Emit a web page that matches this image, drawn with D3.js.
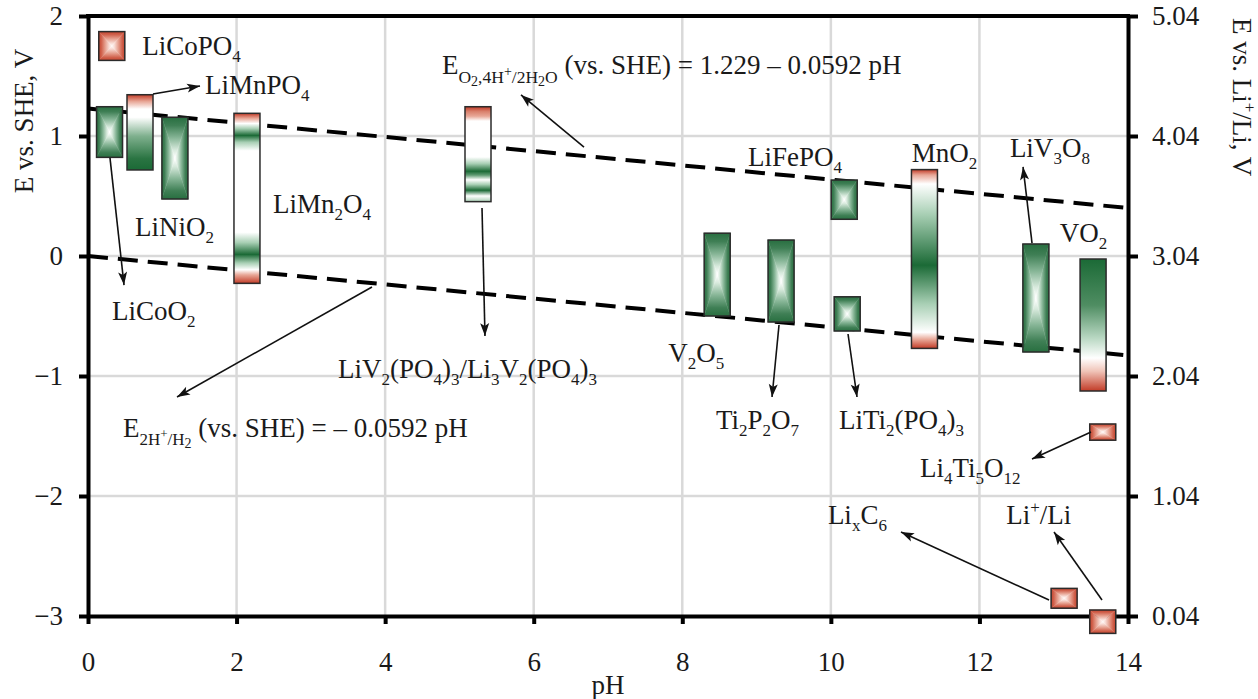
<!DOCTYPE html>
<html>
<head>
<meta charset="utf-8">
<script src="https://cdn.jsdelivr.net/npm/d3@7"></script>
<style>
  body { margin: 0; background: #fff; }
  svg text { font-family: "Liberation Serif", "Times New Roman", serif; fill: #1a1a1a; }
</style>
</head>
<body>
<div id="chart"></div>
<script>
// electrode materials: pH position and potential window (V vs. SHE)
var names    = ["LiCoPO4", "LiCoO2", "LiMnPO4", "LiNiO2", "LiMn2O4", "LiV2(PO4)3", "V2O5", "Ti2P2O7",
                "LiFePO4", "LiTi2(PO4)3", "MnO2", "LiV3O8", "VO2", "Li4Ti5O12", "LixC6", "Li+/Li"];
var phMid    = [0.32, 0.29, 0.70, 1.17, 2.14, 5.25, 8.47, 9.33, 10.18, 10.22, 11.26, 12.76, 13.53, 13.66, 13.14, 13.66];
var eHigh    = [1.87, 1.244, 1.344, 1.156, 1.189, 1.244, 0.19, 0.133, 0.633, -0.34, 0.72, 0.10, -0.025, -1.40, -2.77, -2.95];
var eLow     = [1.63, 0.822, 0.717, 0.475, -0.228, 0.453, -0.50, -0.55, 0.306, -0.625, -0.77, -0.80, -1.125, -1.535, -2.935, -3.145];
var fillKind = ["box-red", "box-green", "v-LiMnPO4", "box-green", "v-LiMn2O4", "v-LiV2", "box-green", "box-green",
                "box-green", "box-green", "v-MnO2", "box-green", "v-VO2", "box-red", "box-red", "box-red"];
var barWidthPH = 0.35;

// water stability lines E = a + b*pH
var lineIntercepts = [1.229, 0];
var lineSlope = -0.0592;
var linePH = [0, 14];

var liOffset = 3.04;
var xTicks = [0, 2, 4, 6, 8, 10, 12, 14];
var yTicks = [-3, -2, -1, 0, 1, 2];
var gridX = [2, 4, 6, 8, 10, 12];
var gridY = [-2, -1, 0, 1];

// annotation labels (text start pH, baseline E)
var labelText = ["LiCoPO_{4}", "LiMnPO_{4}", "LiNiO_{2}", "LiMn_{2}O_{4}", "LiCoO_{2}", "LiFePO_{4}", "MnO_{2}",
                 "LiV_{3}O_{8}", "VO_{2}", "V_{2}O_{5}", "LiV_{2}(PO_{4})_{3}/Li_{3}V_{2}(PO_{4})_{3}", "Ti_{2}P_{2}O_{7}",
                 "LiTi_{2}(PO_{4})_{3}", "Li_{4}Ti_{5}O_{12}", "Li_{x}C_{6}", "Li^{+}/Li"];
var labelPH = [0.73, 1.575, 0.633, 2.49, 0.323, 8.885, 11.09, 12.41, 13.08, 7.81, 3.365, 8.454, 10.11, 11.2, 9.96, 12.36];
var labelE  = [1.675, 1.35, 0.167, 0.358, -0.533, 0.75, 0.783, 0.825, 0.117, -0.883, -1.017, -1.442, -1.442, -1.842, -2.233, -2.233];

// arrows [pH, E] from -> to
var arrowFrom = [[0.875, 1.35], [0.296, 0.817], [6.677, 0.908], [5.304, 0.40], [3.823, -0.258], [9.302, -0.575],
                 [10.231, -0.65], [12.708, 0.108], [13.502, -1.467], [12.937, -2.867], [13.65, -2.867]];
var arrowTo   = [[1.508, 1.417], [0.485, -0.242], [5.829, 1.342], [5.344, -0.667], [1.198, -1.175], [9.208, -1.175],
                 [10.352, -1.175], [12.587, 0.742], [12.708, -1.692], [10.944, -2.30], [13.004, -2.30]];

var svgWidth = 1258, svgHeight = 699;
var plotLeft = 88, plotRight = 1128, plotTop = 16, plotBottom = 616;

var svg = d3.select("#chart").append("svg")
  .attr("width", svgWidth)
  .attr("height", svgHeight);

var x = d3.scaleLinear().domain([0, 14]).range([plotLeft, plotRight]);
var y = d3.scaleLinear().domain([-3, 2]).range([plotBottom, plotTop]);

var G = "#1b6a36", W = "#ffffff", R = "#c23b27", P = "#e8a797", LG = "#a8cfb4";
var defs = svg.append("defs");

// box (pyramid) gradients, built from four triangles
var boxStops = {
  green: [[0, "#286f40"], [0.2, "#3f7f55"], [0.5, "#86b596"], [0.8, "#d8eadd"], [1, "#ffffff"]],
  red: [[0, "#c4452f"], [0.2, "#d0604b"], [0.5, "#e6a08f"], [0.8, "#f8dcd5"], [1, "#fff8f6"]]
};
var dirs = {
  top: [0, 0, 0, 1], bottom: [0, 1, 0, 0], left: [0, 0, 1, 0], right: [1, 0, 0, 0]
};
Object.keys(boxStops).forEach(function(c) {
  Object.keys(dirs).forEach(function(d) {
    var g = defs.append("linearGradient").attr("id", c + "-" + d)
      .attr("x1", dirs[d][0]).attr("y1", dirs[d][1]).attr("x2", dirs[d][2]).attr("y2", dirs[d][3]);
    boxStops[c].forEach(function(s) {
      g.append("stop").attr("offset", s[0]).attr("stop-color", s[1]);
    });
  });
});

var vStops = {
  "v-LiMnPO4": [[0, R], [0.09, P], [0.19, W], [0.3, W], [0.55, "#7fb08e"], [0.85, "#2a7442"], [1, G]],
  "v-LiMn2O4": [[0, R], [0.03, P], [0.06, W], [0.09, LG], [0.13, G], [0.17, LG], [0.22, W], [0.70, W],
                [0.76, LG], [0.83, G], [0.88, LG], [0.92, W], [0.95, P], [1, R]],
  "v-LiV2": [[0, R], [0.05, "#d9806c"], [0.1, P], [0.15, W], [0.53, W], [0.6, LG], [0.68, G], [0.72, "#5e9a71"],
             [0.77, W], [0.82, LG], [0.88, G], [0.94, W], [1, LG]],
  "v-MnO2": [[0, R], [0.03, P], [0.08, W], [0.25, LG], [0.535, G], [0.75, LG], [0.91, W], [0.95, P], [1, R]],
  "v-VO2": [[0, G], [0.35, "#4f8d62"], [0.6, "#b9d8c3"], [0.75, W], [0.85, "#f0c4b8"], [1, R]]
};
Object.keys(vStops).forEach(function(k) {
  var g = defs.append("linearGradient").attr("id", k)
    .attr("x1", 0).attr("y1", 0).attr("x2", 0).attr("y2", 1);
  vStops[k].forEach(function(s) {
    g.append("stop").attr("offset", s[0]).attr("stop-color", s[1]);
  });
});

defs.append("marker")
  .attr("id", "arrow")
  .attr("viewBox", "-14 -6 16 12")
  .attr("markerUnits", "userSpaceOnUse")
  .attr("markerWidth", 16)
  .attr("markerHeight", 12)
  .attr("refX", 0).attr("refY", 0)
  .attr("orient", "auto")
  .append("path")
  .attr("d", "M0,0L-13,-4.5L-10,0L-13,4.5Z")
  .attr("fill", "#111");

// grid
svg.append("g").selectAll("line.gx").data(gridX).enter().append("line")
  .attr("x1", d => x(d)).attr("x2", d => x(d))
  .attr("y1", plotTop).attr("y2", plotBottom)
  .attr("stroke", "#d9d9d9").attr("stroke-width", 2.5);
svg.append("g").selectAll("line.gy").data(gridY).enter().append("line")
  .attr("x1", plotLeft).attr("x2", plotRight)
  .attr("y1", d => y(d)).attr("y2", d => y(d))
  .attr("stroke", "#d9d9d9").attr("stroke-width", 2.5);

// water lines
svg.append("g").selectAll("line.water").data(lineIntercepts).enter().append("line")
  .attr("x1", x(linePH[0])).attr("x2", x(linePH[1]))
  .attr("y1", d => y(d + lineSlope * linePH[0]))
  .attr("y2", d => y(d + lineSlope * linePH[1]))
  .attr("stroke", "#000").attr("stroke-width", 4)
  .attr("stroke-dasharray", "20,10");

// axes
var fontSize = 27;
function styleAxis(g) {
  g.select(".domain").attr("stroke", "#000").attr("stroke-width", 4);
  g.selectAll(".tick line").attr("stroke", "#000").attr("stroke-width", 4);
  g.selectAll(".tick text")
    .style("font-family", '"Liberation Serif", "Times New Roman", serif')
    .style("font-size", fontSize + "px").attr("fill", "#1a1a1a");
}

svg.append("g")
  .attr("transform", `translate(${plotLeft},0)`)
  .call(d3.axisLeft(y).tickValues(yTicks).tickSize(9).tickSizeOuter(0).tickPadding(16).tickFormat(d3.format("d")))
  .call(styleAxis);

svg.append("g")
  .attr("transform", `translate(${plotRight},0)`)
  .call(d3.axisRight(y).tickValues(yTicks).tickSize(10).tickSizeOuter(0).tickPadding(14)
    .tickFormat(d => (d + liOffset).toFixed(2)))
  .call(styleAxis);

svg.append("g")
  .attr("transform", `translate(0,${plotBottom})`)
  .call(d3.axisBottom(x).tickValues(xTicks).tickSize(8).tickSizeOuter(0).tickPadding(28).tickFormat(d3.format("d")))
  .call(styleAxis);

svg.append("line")
  .attr("x1", plotLeft - 2).attr("x2", plotRight + 2)
  .attr("y1", plotTop).attr("y2", plotTop)
  .attr("stroke", "#000").attr("stroke-width", 4);

// bars (drawn over the axes, like the Li/Li+ square)
var bars = svg.append("g");
names.forEach(function(n, i) {
  var x0 = x(phMid[i] - barWidthPH / 2), x1 = x(phMid[i] + barWidthPH / 2);
  var y0 = y(eHigh[i]), y1 = y(eLow[i]);
  var cx = (x0 + x1) / 2, cy = (y0 + y1) / 2;
  var kind = fillKind[i];
  if (kind.indexOf("box-") === 0) {
    var c = kind.slice(4);
    var tris = {
      top: [[x0, y0], [x1, y0], [cx, cy]],
      bottom: [[x0, y1], [x1, y1], [cx, cy]],
      left: [[x0, y0], [x0, y1], [cx, cy]],
      right: [[x1, y0], [x1, y1], [cx, cy]]
    };
    Object.keys(tris).forEach(function(d) {
      bars.append("polygon")
        .attr("points", tris[d].map(p => p.join(",")).join(" "))
        .attr("fill", "url(#" + c + "-" + d + ")")
        .attr("stroke", "url(#" + c + "-" + d + ")")
        .attr("stroke-width", 0.4);
    });
  } else {
    bars.append("rect")
      .attr("x", x0).attr("y", y0)
      .attr("width", x1 - x0).attr("height", y1 - y0)
      .attr("fill", "url(#" + kind + ")");
  }
  bars.append("rect")
    .attr("x", x0).attr("y", y0)
    .attr("width", x1 - x0).attr("height", y1 - y0)
    .attr("fill", "none")
    .attr("stroke", "#2b2b2b").attr("stroke-width", 1.5);
});

// rich text helper
function parseLabel(str) {
  var out = [], re = /([_^])\{([^}]*)\}|([^_^]+)/g, m;
  while ((m = re.exec(str))) {
    if (m[3]) out.push([m[3], fontSize, 0]);
    else out.push([m[2], 17, m[1] === "_" ? 7 : -11]);
  }
  return out;
}
function richText(g, px, py, segs, attrs) {
  var t = g.append("text").attr("x", px).attr("y", py);
  if (attrs) Object.keys(attrs).forEach(k => t.attr(k, attrs[k]));
  var prev = 0;
  segs.forEach(function(s) {
    t.append("tspan").attr("font-size", s[1] + "px").attr("dy", s[2] - prev).text(s[0]);
    prev = s[2];
  });
  return t;
}

var ann = svg.append("g");
labelText.forEach(function(l, i) {
  richText(ann, x(labelPH[i]), y(labelE[i]), parseLabel(l));
});

// water line equations
var o2Segs = [["E", 27, 0], ["O", 17.5, 9], ["2", 14, 12], [",4H", 17.5, 9], ["+", 14, 2], ["/2H", 17.5, 9],
              ["2", 14, 12], ["O", 17.5, 9], [" (vs. SHE) = 1.229 \u2013 0.0592 pH", 27, 0]];
var h2Segs = [["E", 27, 0], ["2H", 17, 8], ["+", 13, 1], ["/H", 17, 8], ["2", 14, 11],
              [" (vs. SHE) = \u2013 0.0592 pH", 27, 0]];
richText(ann, x(4.765), y(1.517), o2Segs);
richText(ann, x(0.471), y(-1.508), h2Segs);

// arrows
svg.append("g").selectAll("line.arrow").data(arrowFrom).enter().append("line")
  .attr("x1", d => x(d[0])).attr("y1", d => y(d[1]))
  .attr("x2", (d, i) => x(arrowTo[i][0])).attr("y2", (d, i) => y(arrowTo[i][1]))
  .attr("stroke", "#111").attr("stroke-width", 1.6)
  .attr("marker-end", "url(#arrow)");

// axis titles
svg.append("text")
  .attr("transform", "translate(33,121) rotate(-90)")
  .attr("text-anchor", "middle")
  .attr("font-size", fontSize + "px")
  .text("E vs. SHE, V");

richText(svg, 0, 0, [["E vs. Li", 27, 0], ["+", 17, -11], ["/Li, V", 27, 0]],
  { transform: "translate(1233,18) rotate(90)" });

svg.append("text")
  .attr("x", 608).attr("y", 694)
  .attr("text-anchor", "middle")
  .attr("font-size", fontSize + "px")
  .text("pH");
</script>
</body>
</html>
